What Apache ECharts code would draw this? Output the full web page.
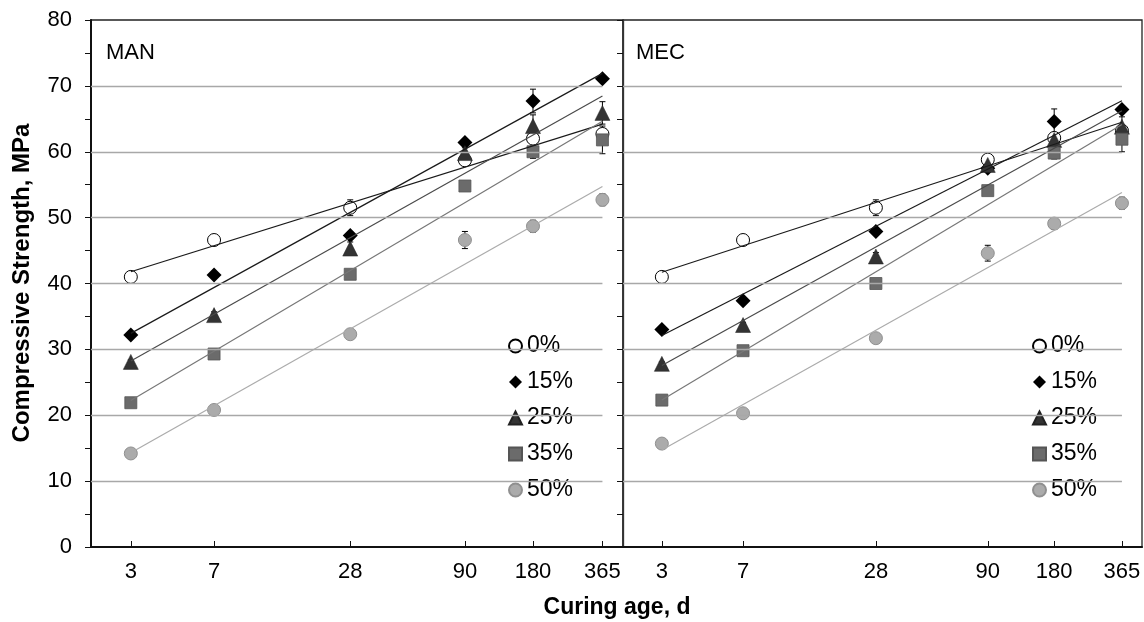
<!DOCTYPE html>
<html><head><meta charset="utf-8">
<script src="https://cdn.jsdelivr.net/npm/echarts@6/dist/echarts.min.js"></script>
<style>html,body{margin:0;padding:0;background:#fff}#c{width:1144px;height:622px}</style>
</head><body><div id="c"></div>
<script>
// ---- data ----
const ages = [3, 7, 28, 90, 180, 365];
const xTickValues = [3, 7, 28, 90, 180, 365];
const yGridValues = [10, 20, 30, 40, 50, 60, 70];
const levels = ['0%', '15%', '25%', '35%', '50%'];
const panelNames = ['MAN', 'MEC'];

const man0  = [41.0, 46.6, 51.5, 58.7, 62.0, 62.7];
const man15 = [32.2, 41.3, 47.3, 61.4, 67.7, 71.1];
const man25 = [28.1, 35.2, 45.3, 59.8, 63.9, 65.9];
const man35 = [21.9, 29.3, 41.4, 54.8, 60.0, 61.8];
const man50 = [14.2, 20.8, 32.3, 46.6, 48.7, 52.7];

const man0Err  = [0.3, 0.3, 1.2, 0.8, 0.5, 0.5];
const man15Err = [0.3, 0.3, 0.5, 0.5, 1.8, 0.3];
const man25Err = [0.3, 0.5, 1.0, 0.8, 1.7, 1.7];
const man35Err = [0.3, 0.3, 0.6, 0.4, 1.0, 2.1];
const man50Err = [0.3, 0.3, 0.4, 1.3, 0.9, 0.9];

const mec0  = [41.0, 46.6, 51.5, 58.8, 62.1, 63.2];
const mec15 = [33.0, 37.4, 47.9, 57.5, 64.6, 66.4];
const mec25 = [27.8, 33.7, 44.1, 58.0, 61.8, 63.8];
const mec35 = [22.3, 29.8, 40.0, 54.1, 59.8, 61.9];
const mec50 = [15.7, 20.3, 31.7, 44.6, 49.1, 52.2];

const mec0Err  = [0.3, 0.3, 1.2, 0.6, 0.5, 0.5];
const mec15Err = [0.3, 0.3, 0.4, 0.5, 1.9, 0.4];
const mec25Err = [0.3, 0.4, 0.6, 0.6, 1.0, 1.5];
const mec35Err = [0.3, 0.3, 0.5, 0.4, 0.9, 1.9];
const mec50Err = [0.3, 0.3, 0.4, 1.2, 0.9, 0.9];

const xMin = 2, xMax = 450, yMin = 0, yMax = 80, yStep = 10;

// ---- styles ----
const FONT = 'Liberation Sans, Arial, sans-serif';
const markerStyles = [
  {symbol: 'circle',   size: 13, item: {color: '#fff', borderColor: '#000', borderWidth: 1, opacity: 1}},
  {symbol: 'diamond',  size: 15, item: {color: '#000', borderColor: '#000', borderWidth: 0, opacity: 1}},
  {symbol: 'triangle', size: 15, item: {color: '#333', borderColor: '#222', borderWidth: 0.5, opacity: 1}},
  {symbol: 'rect',     size: 12, item: {color: '#6b6b6b', borderColor: '#555', borderWidth: 0.8, opacity: 1}},
  {symbol: 'circle',   size: 13, item: {color: '#ababab', borderColor: '#909090', borderWidth: 1, opacity: 1}}
];
const trendColors = ['#1a1a1a', '#1a1a1a', '#4a4a4a', '#777', '#ababab'];

const panelData = [
  {vals: [man0, man15, man25, man35, man50], errs: [man0Err, man15Err, man25Err, man35Err, man50Err]},
  {vals: [mec0, mec15, mec25, mec35, mec50], errs: [mec0Err, mec15Err, mec25Err, mec35Err, mec50Err]}
];

function logFit(xs, ys) {
  const lx = xs.map(Math.log);
  const n = xs.length;
  const mx = lx.reduce((a, b) => a + b, 0) / n;
  const my = ys.reduce((a, b) => a + b, 0) / n;
  let sxy = 0, sxx = 0;
  for (let i = 0; i < n; i++) { sxy += (lx[i] - mx) * (ys[i] - my); sxx += (lx[i] - mx) * (lx[i] - mx); }
  const a = sxy / sxx, b = my - a * mx;
  return x => a * Math.log(x) + b;
}

function errRender(params, api) {
  const x = api.value(0), y = api.value(1), e = api.value(2);
  const t = api.coord([x, y + e]), b = api.coord([x, y - e]);
  const hw = 3;
  const st = {stroke: '#000', lineWidth: 1};
  return {type: 'group', children: [
    {type: 'line', shape: {x1: t[0], y1: t[1], x2: b[0], y2: b[1]}, style: st},
    {type: 'line', shape: {x1: t[0] - hw, y1: t[1], x2: t[0] + hw, y2: t[1]}, style: st},
    {type: 'line', shape: {x1: b[0] - hw, y1: b[1], x2: b[0] + hw, y2: b[1]}, style: st}
  ]};
}

const grids = [
  {left: 91, top: 20, width: 532, height: 527},
  {left: 623, top: 20, width: 519, height: 527}
].map(g => Object.assign(g, {show: true, borderColor: '#222', borderWidth: 1.3, backgroundColor: 'transparent'}));

const xAxes = [0, 1].map(p => ({
  type: 'log', logBase: 10, gridIndex: p, min: xMin, max: xMax,
  axisLine: {show: true, lineStyle: {color: '#111', width: 2}},
  axisTick: {show: true, inside: true, length: 6, customValues: xTickValues, lineStyle: {color: '#111'}},
  axisLabel: {show: true, customValues: xTickValues, fontSize: 22, fontFamily: FONT, color: '#000', margin: 14,
              formatter: v => String(Math.round(v))},
  splitLine: {show: false}, minorTick: {show: false}, minorSplitLine: {show: false}
}));

const yAxes = [0, 1].map(p => ({
  type: 'value', gridIndex: p, min: yMin, max: yMax, interval: yStep,
  axisLine: {show: true, lineStyle: {color: p === 0 ? '#111' : '#333', width: p === 0 ? 2 : 1.3}},
  axisTick: {show: true, inside: false, length: 6, lineStyle: {color: '#111'}},
  minorTick: {show: true, splitNumber: 2, length: 6, lineStyle: {color: '#111'}},
  axisLabel: {show: p === 0, fontSize: 22, fontFamily: FONT, color: '#000', margin: 19},
  splitLine: {show: false}
}));

const series = [];
[0, 1].forEach(p => {
  // horizontal grid lines, from the axis start to the last tick value
  series.push({
    type: 'line', name: 'grid' + p, xAxisIndex: p, yAxisIndex: p, data: [], silent: true, z: 1,
    markLine: {
      silent: true, symbol: ['none', 'none'], label: {show: false}, animation: false,
      lineStyle: {color: '#a8a8a8', type: 'solid', width: 1.3},
      data: yGridValues.map(v => [{coord: [xMin, v]}, {coord: [xTickValues[xTickValues.length - 1], v]}])
    }
  });
  levels.forEach((lv, k) => {
    const vals = panelData[p].vals[k], errs = panelData[p].errs[k];
    const ms = markerStyles[k];
    series.push({
      type: 'custom', name: 'err' + p + k, xAxisIndex: p, yAxisIndex: p, z: 2, silent: true,
      renderItem: errRender, encode: {x: 0, y: 1},
      data: ages.map((a, i) => [a, vals[i], errs[i]])
    });
    series.push({
      type: 'scatter', name: lv, xAxisIndex: p, yAxisIndex: p, z: 3,
      symbol: ms.symbol, symbolSize: ms.size, itemStyle: ms.item,
      emphasis: {disabled: true},
      data: ages.map((a, i) => [a, vals[i]])
    });
  });
  levels.forEach((lv, k) => {
    const vals = panelData[p].vals[k];
    const f = logFit(ages, vals);
    const x0 = ages[0], x1 = ages[ages.length - 1];
    series.push({
      type: 'line', name: 'trend' + p + k, xAxisIndex: p, yAxisIndex: p, z: 4, silent: true,
      showSymbol: false, symbol: 'none',
      lineStyle: {color: trendColors[k], width: 1.2},
      data: [[x0, f(x0)], [x1, f(x1)]]
    });
  });
});

const legendBase = {
  orient: 'vertical', top: 328, data: levels,
  itemWidth: 13, itemHeight: 13, itemGap: 12,
  padding: [6, 18, 6, 12], backgroundColor: '#fff',
  textStyle: {fontSize: 23, fontFamily: FONT, color: '#000', lineHeight: 24},
  selectedMode: false
};

const option = {
  animation: false,
  backgroundColor: '#fff',
  grid: grids, xAxis: xAxes, yAxis: yAxes, series,
  legend: [
    Object.assign({}, legendBase, {left: 496}),
    Object.assign({}, legendBase, {left: 1020})
  ],
  graphic: [
    {type: 'text', x: 106, y: 53, style: {text: panelNames[0], font: '22px ' + FONT, fill: '#000', verticalAlign: 'middle'}},
    {type: 'text', x: 636, y: 53, style: {text: panelNames[1], font: '22px ' + FONT, fill: '#000', verticalAlign: 'middle'}},
    {type: 'text', x: 617, y: 608, style: {text: 'Curing age, d', font: 'bold 23px ' + FONT, fill: '#000', align: 'center', verticalAlign: 'middle'}},
    {type: 'text', x: 22, y: 283, rotation: Math.PI / 2, style: {text: 'Compressive Strength, MPa', font: 'bold 24px ' + FONT, fill: '#000', align: 'center', verticalAlign: 'middle'}}
  ]
};

const chart = echarts.init(document.getElementById('c'), null, {renderer: 'canvas'});
chart.setOption(option);
</script>
</body></html>
